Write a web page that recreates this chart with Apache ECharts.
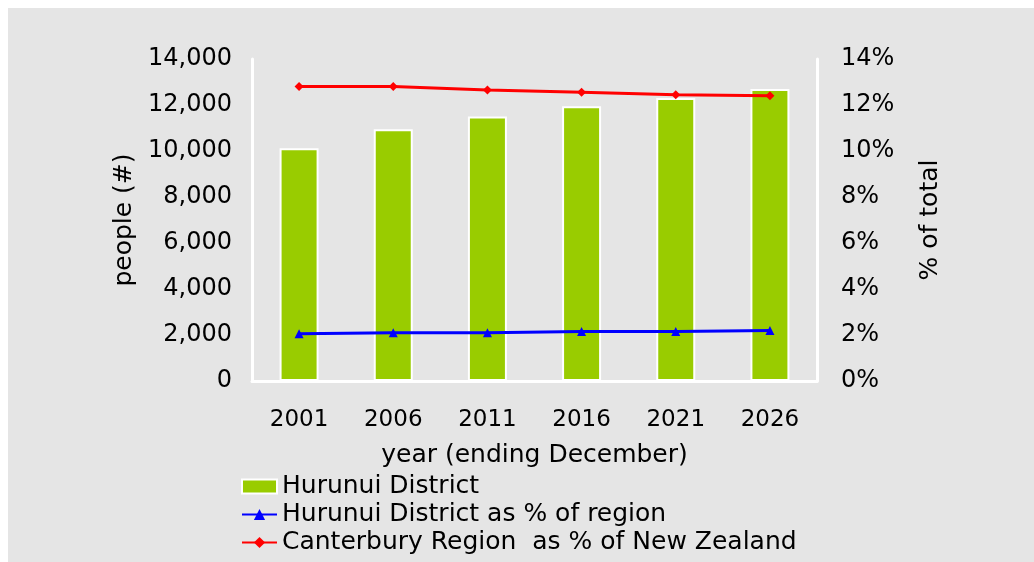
<!DOCTYPE html>
<html>
<head>
<meta charset="utf-8">
<script src="https://cdn.jsdelivr.net/npm/echarts@6/dist/echarts.min.js"></script>
<style>
  html, body { margin: 0; padding: 0; background: #ffffff; }
  #chart { width: 1034px; height: 562px; }
</style>
</head>
<body>
<div id="chart"></div>
<script>
// data
const years = ["2001", "2006", "2011", "2016", "2021", "2026"];
const districtPeople = [10120, 10950, 11500, 11950, 12300, 12700];
const districtPctOfRegion = [2.05, 2.1, 2.1, 2.15, 2.15, 2.2];
const regionPctOfNZ = [12.8, 12.8, 12.65, 12.55, 12.45, 12.4];

const font = "DejaVu Sans";
const textColor = "#000000";

const chart = echarts.init(document.getElementById("chart"));

const option = {
  backgroundColor: "#ffffff",
  animation: false,
  textStyle: { fontFamily: font, color: textColor },
  graphic: [
    {
      type: "rect",
      z: -10,
      shape: { x: 8, y: 8, width: 1026, height: 554 },
      style: { fill: "#e5e5e5" }
    }
  ],
  grid: { left: 252, right: 217, top: 59, bottom: 181, containLabel: false },
  legend: {
    orient: "vertical",
    left: 241,
    top: 474,
    padding: 0,
    itemGap: 3,
    itemWidth: 35,
    itemHeight: 14,
    textStyle: { fontFamily: font, fontSize: 25, color: textColor, lineHeight: 23 },
    data: [
      { name: "Hurunui District", icon: "rect" },
      { name: "Hurunui District as % of region" },
      { name: "Canterbury Region  as % of New Zealand" }
    ]
  },
  xAxis: {
    type: "category",
    data: years,
    name: "year (ending December)",
    nameLocation: "middle",
    nameGap: 62,
    nameTextStyle: { fontFamily: font, fontSize: 25, color: textColor },
    axisLine: { show: true, lineStyle: { color: "#ffffff", width: 3 } },
    axisTick: { show: false },
    axisLabel: { fontFamily: font, fontSize: 23, color: textColor, margin: 28 },
    splitLine: { show: false }
  },
  yAxis: [
    {
      type: "value",
      min: 0,
      max: 14000,
      interval: 2000,
      name: "people (#)",
      nameLocation: "middle",
      nameGap: 114,
      nameTextStyle: { fontFamily: font, fontSize: 25, color: textColor },
      axisLine: { show: true, lineStyle: { color: "#ffffff", width: 3 } },
      axisTick: { show: false },
      splitLine: { show: false },
      axisLabel: {
        fontFamily: font,
        fontSize: 24,
        color: textColor,
        margin: 20,
        formatter: (v) => v.toLocaleString("en-US")
      }
    },
    {
      type: "value",
      min: 0,
      max: 14,
      interval: 2,
      position: "right",
      name: "% of total",
      nameLocation: "middle",
      nameGap: 101,
      nameTextStyle: { fontFamily: font, fontSize: 25, color: textColor },
      axisLine: { show: true, lineStyle: { color: "#ffffff", width: 3 } },
      axisTick: { show: false },
      splitLine: { show: false },
      axisLabel: {
        fontFamily: font,
        fontSize: 24,
        color: textColor,
        margin: 24,
        formatter: "{value}%"
      }
    }
  ],
  series: [
    {
      name: "Hurunui District",
      type: "bar",
      yAxisIndex: 0,
      barWidth: 39,
      data: districtPeople,
      itemStyle: { color: "#99cc00", borderColor: "#ffffff", borderWidth: 2 }
    },
    {
      name: "Hurunui District as % of region",
      type: "line",
      yAxisIndex: 1,
      data: districtPctOfRegion,
      symbol: "triangle",
      symbolSize: 9,
      lineStyle: { color: "#0000ff", width: 3 },
      itemStyle: { color: "#0000ff" }
    },
    {
      name: "Canterbury Region  as % of New Zealand",
      type: "line",
      yAxisIndex: 1,
      data: regionPctOfNZ,
      symbol: "diamond",
      symbolSize: 9,
      lineStyle: { color: "#ff0000", width: 3 },
      itemStyle: { color: "#ff0000" }
    }
  ]
};

chart.setOption(option);
</script>
</body>
</html>
